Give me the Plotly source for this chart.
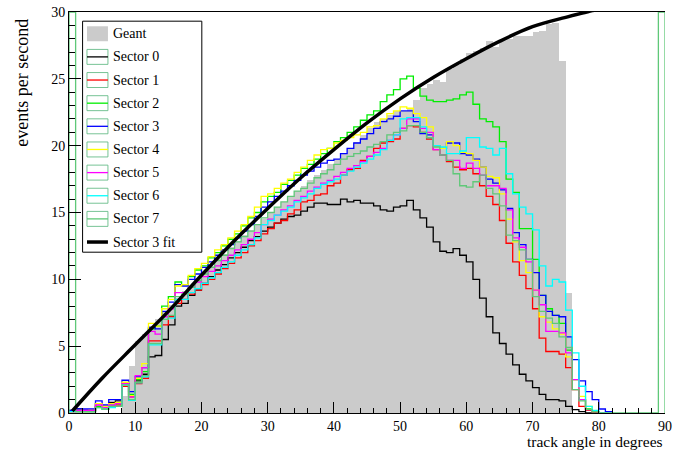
import plotly.graph_objects as go

# ---------------- data ----------------
bins = list(range(0, 82))          # 1-degree bins, low edges 0..81
bins_full = list(range(0, 90))     # sector 7 spans the full axis

geant = [0, 0, 0, 0, 0, 0, 0, 0, 1.25, 3.5,
         5.4, 5.9, 6.5, 7.0, 7.6, 8.1, 8.6, 9.1, 9.6, 10.1,
         10.6, 11.0, 11.5, 11.9, 12.4, 12.9, 13.3, 13.7, 14.1, 14.5,
         15.0, 15.4, 15.8, 16.2, 16.6, 17.0, 17.4, 17.8, 18.2, 18.6,
         19.0, 19.4, 19.8, 20.3, 20.8, 21.3, 21.8, 22.0, 22.3, 22.6,
         22.6, 22.8, 23.4, 24.3, 24.6, 24.9, 24.8, 25.7, 26.0, 26.5,
         26.9, 27.1, 27.3, 27.8, 27.4, 27.9, 28.0, 28.2, 28.2, 28.2,
         28.5, 28.6, 29.1, 29.2, 26.3, 9.0, 0, 0, 0, 0,
         0, 0]

sector0 = [0.2, 0.3, 0.2, 0.2, 0.7, 0.5, 0.8, 0.9, 2.2, 1.3,
           2.4, 2.9, 4.2, 4.3, 5.5, 6.6, 8.0, 8.2, 8.8, 9.2,
           9.7, 10.2, 10.7, 11.1, 11.6, 12.0, 12.4, 12.9, 13.2, 13.6,
           13.9, 14.2, 14.5, 14.7, 14.8, 15.1, 15.4, 15.7, 15.7, 15.6,
           15.6, 16.0, 15.8, 15.9, 15.7, 15.7, 15.5, 15.2, 15.1, 15.4,
           15.5, 15.9, 15.2, 14.6, 13.9, 12.8, 12.1, 12.0, 12.3, 11.8,
           11.3, 10.0, 8.6, 7.2, 6.0, 5.2, 4.4, 3.6, 2.9, 2.4,
           1.9, 1.4, 1.0, 1.0, 0.9, 0.5, 0.25, 0.1, 0, 0,
           0, 0]

sector1 = [0.1, 0.1, 0.1, 0.1, 0.5, 0.3, 0.5, 0.6, 2.0, 1.2,
           2.2, 2.6, 5.4, 5.4, 6.6, 7.2, 8.2, 8.5, 8.9, 9.2,
           9.6, 10.0, 10.4, 10.8, 11.2, 11.6, 12.0, 12.5, 12.9, 13.4,
           13.8, 14.2, 14.4, 14.9, 15.2, 15.8, 15.9, 16.3, 16.4, 17.0,
           17.2, 17.8, 18.2, 18.3, 18.9, 19.2, 19.8, 20.2, 20.3, 20.5,
           21.3, 21.5, 21.4, 21.0, 20.5, 19.7, 19.3, 18.8, 18.4, 18.2,
           18.3, 17.9, 17.0, 16.2, 15.6, 14.4, 12.7, 11.3, 10.3, 9.3,
           7.8, 5.6, 4.6, 4.6, 4.4, 3.4, 1.75, 0.5, 0.2, 0.1,
           0, 0]

sector2 = [0.1, 0.1, 0.1, 0.1, 0.5, 0.4, 0.6, 0.7, 2.2, 1.4,
           2.5, 3.1, 6.3, 6.5, 8.0, 8.7, 9.8, 9.6, 10.2, 10.7,
           11.0, 11.6, 12.0, 12.5, 13.0, 13.4, 14.0, 14.6, 15.0, 15.8,
           16.2, 16.5, 17.1, 17.4, 17.8, 18.3, 18.6, 19.0, 19.4, 19.8,
           20.3, 20.6, 21.0, 21.4, 21.9, 22.3, 22.6, 23.3, 23.8, 24.2,
           25.0, 25.2, 24.3, 23.7, 23.4, 23.3, 23.3, 23.4, 23.5, 23.8,
           24.0, 23.1, 22.0, 21.8, 21.4, 20.3, 17.5, 16.5, 13.8, 13.8,
           11.5, 8.8, 7.8, 7.3, 6.7, 4.7, 2.5, 1.0, 0.3, 0.1,
           0, 0]

sector3 = [0.2, 0.3, 0.3, 0.3, 0.9, 0.6, 1.0, 1.0, 2.45, 1.6,
           2.7, 3.4, 6.4, 6.3, 7.6, 8.3, 9.6, 9.5, 10.0, 10.4,
           10.9, 11.3, 11.8, 12.2, 12.6, 13.1, 13.6, 14.1, 14.7, 15.4,
           15.8, 16.2, 16.6, 17.0, 17.4, 17.8, 18.1, 18.4, 18.7, 18.9,
           19.0, 19.4, 19.8, 20.2, 20.5, 20.9, 21.3, 21.8, 22.0, 22.2,
           22.6, 22.6, 21.8, 20.9, 20.8, 20.0, 19.8, 20.2, 20.2, 19.4,
           19.3, 19.0, 18.4, 17.5, 17.2, 16.7, 15.3, 13.5, 12.6, 11.5,
           10.5, 8.8, 7.6, 7.3, 7.2, 5.7, 4.0, 2.4, 1.6, 1.0,
           0.3, 0.1]

sector4 = [0.1, 0.2, 0.1, 0.2, 0.7, 0.5, 0.7, 0.8, 2.3, 1.3,
           2.6, 3.7, 6.7, 6.5, 7.8, 8.5, 9.5, 9.6, 10.3, 10.8,
           11.2, 11.7, 12.2, 12.6, 13.1, 13.6, 14.1, 14.7, 15.4, 16.2,
           16.4, 16.8, 17.2, 17.5, 18.0, 18.4, 18.9, 19.3, 19.7, 19.8,
           20.2, 20.4, 20.6, 20.8, 21.0, 21.4, 21.5, 22.0, 22.4, 22.6,
           22.9, 22.8, 22.4, 22.1, 21.4, 20.0, 19.8, 20.3, 20.0, 19.5,
           19.4, 18.9, 18.4, 17.7, 17.6, 16.4, 14.5, 12.8, 11.4, 10.5,
           9.2, 7.2, 6.8, 6.3, 5.9, 4.2, 2.5, 1.25, 0.5, 0.1,
           0, 0]

sector5 = [0.1, 0.2, 0.2, 0.2, 0.6, 0.4, 0.6, 0.7, 2.2, 1.2,
           2.8, 3.4, 6.1, 5.9, 7.2, 7.8, 9.0, 9.0, 9.4, 9.8,
           10.2, 10.6, 11.0, 11.4, 11.8, 12.2, 12.6, 13.0, 13.5, 14.1,
           14.5, 14.8, 15.2, 15.5, 15.9, 16.2, 16.6, 16.9, 17.2, 17.4,
           17.7, 18.0, 18.3, 18.5, 18.8, 19.2, 19.5, 19.8, 20.4, 20.8,
           21.3, 22.0, 22.0, 21.3, 21.0, 19.7, 19.3, 18.9, 18.9, 18.3,
           18.7, 18.3, 17.8, 17.0, 17.0, 16.8, 15.2, 13.1, 12.4, 11.3,
           9.2, 8.1, 6.1, 6.1, 6.0, 4.5, 2.5, 1.0, 0.25, 0.1,
           0, 0]

sector6 = [0.1, 0.1, 0.1, 0.1, 0.4, 0.3, 0.4, 0.5, 2.1, 0.95,
           2.25, 2.7, 5.1, 5.1, 7.0, 7.1, 8.5, 8.5, 9.0, 9.3,
           9.7, 10.1, 10.5, 10.9, 11.3, 11.8, 12.2, 12.6, 13.1, 14.1,
           14.4, 14.8, 15.1, 15.4, 15.8, 16.1, 16.4, 16.8, 17.1, 17.3,
           17.5, 17.8, 18.1, 18.4, 18.7, 19.0, 19.3, 19.7, 20.4, 20.8,
           22.0, 22.1, 22.1, 21.4, 20.6, 20.0, 19.9, 19.4, 19.4, 19.6,
           20.6, 20.6, 19.9, 19.8, 19.3, 19.8, 17.9, 16.4, 15.4, 14.9,
           13.7, 11.0, 9.5, 10.0, 9.8, 7.7, 4.5, 2.0, 0.5, 0.2,
           0, 0]

sector7 = [30.0, 0.1, 0.1, 0.1, 0.4, 0.3, 0.5, 0.5, 2.1, 1.0,
           2.3, 2.8, 5.2, 5.2, 7.0, 7.3, 8.7, 8.9, 9.4, 9.9,
           10.4, 10.9, 11.4, 11.8, 12.3, 12.8, 13.2, 13.6, 14.1, 14.6,
           15.0, 15.4, 15.8, 16.2, 16.6, 16.8, 17.2, 17.6, 17.9, 18.2,
           18.6, 19.0, 19.2, 19.4, 19.6, 19.9, 20.1, 20.3, 20.8, 21.0,
           21.1, 21.5, 21.5, 21.0, 20.6, 19.9, 19.3, 18.9, 17.9, 17.0,
           16.9, 17.3, 17.8, 16.8, 16.4, 15.5, 13.3, 12.9, 12.2, 11.5,
           8.7, 7.6, 7.1, 6.7, 5.7, 4.9, 1.75, 0.9, 0.25, 0.1,
           0, 0, 0, 0, 0, 0, 0, 0, 0, 30.0]

fit_x = [0.5, 5, 10, 15, 20, 25, 30, 35, 40, 45, 50, 55, 60, 65, 70, 75, 79, 82]
fit_y = [0.15, 2.6, 5.1, 7.6, 10.3, 12.9, 15.3, 17.6, 19.7, 21.7, 23.5, 25.1,
         26.5, 27.8, 28.9, 29.6, 30.1, 30.5]

sector_names = ["Sector 0", "Sector 1", "Sector 2", "Sector 3",
                "Sector 4", "Sector 5", "Sector 6", "Sector 7"]
sector_colors = ["#000000", "#ff0000", "#00ee00", "#0000ff",
                 "#ffff00", "#ff00ff", "#00ffff", "rgb(95,200,120)"]

# ---------------- figure ----------------
W, H = 676, 450
L, R, T, B = 68.7, 665.5, 11.5, 413.5   # plot area in pixels
SERIF = "Liberation Serif"

fig = go.Figure()

fig.add_trace(go.Bar(x=bins, y=geant, width=1, offset=0,
                     marker=dict(color="#cbcbcb", line=dict(width=0)),
                     name="Geant", showlegend=False))


def step(edges_lo, vals):
    xs = [edges_lo[0]] + list(edges_lo) + [edges_lo[-1] + 1, edges_lo[-1] + 1]
    ys = [0] + list(vals) + [vals[-1], 0]
    return xs, ys


series = [sector0, sector1, sector2, sector3, sector4, sector5, sector6, sector7]
for name, col, vals in zip(sector_names, sector_colors, series):
    edges = bins_full if len(vals) == len(bins_full) else bins
    xs, ys = step(edges, vals)
    fig.add_trace(go.Scatter(x=xs, y=ys, mode="lines", name=name,
                             line=dict(color=col, width=1.3, shape="hv"),
                             showlegend=False))

fig.add_trace(go.Scatter(x=fit_x, y=fit_y, mode="lines", name="Sector 3 fit",
                         line=dict(color="black", width=3.5, shape="spline"),
                         showlegend=False))

# ---------------- manual ROOT-style legend ----------------
pw, ph = R - L, B - T


def px(xp):
    return (xp - L) / pw


def py(yp):
    return (B - yp) / ph


shapes = []
annotations = []
shapes.append(dict(type="rect", xref="paper", yref="paper",
                   x0=px(82.3), x1=px(201.7), y0=py(252.3), y1=py(20.7),
                   line=dict(color="black", width=1), fillcolor="white", layer="above"))

entry_names = ["Geant"] + sector_names + ["Sector 3 fit"]
for i, nm in enumerate(entry_names):
    yc = 33.3 + 23.2 * i
    bx0, bx1 = 86.7, 107.7
    if nm == "Geant":
        shapes.append(dict(type="rect", xref="paper", yref="paper",
                           x0=px(bx0), x1=px(bx1), y0=py(yc + 7.5), y1=py(yc - 7.5),
                           line=dict(width=0), fillcolor="#cbcbcb", layer="above"))
    elif nm == "Sector 3 fit":
        shapes.append(dict(type="line", xref="paper", yref="paper",
                           x0=px(bx0), x1=px(bx1), y0=py(yc), y1=py(yc),
                           line=dict(color="black", width=3.5), layer="above"))
    else:
        col = sector_colors[sector_names.index(nm)]
        shapes.append(dict(type="rect", xref="paper", yref="paper",
                           x0=px(bx0), x1=px(bx1), y0=py(yc + 7.5), y1=py(yc - 7.5),
                           line=dict(color="rgba(95,185,130,0.85)", width=1),
                           fillcolor="white", layer="above"))
        shapes.append(dict(type="line", xref="paper", yref="paper",
                           x0=px(bx0), x1=px(bx1), y0=py(yc), y1=py(yc),
                           line=dict(color=col, width=1.3), layer="above"))
    annotations.append(dict(xref="paper", yref="paper", x=px(110.7), y=py(yc),
                            text=nm, showarrow=False, xanchor="left", yanchor="middle",
                            font=dict(family=SERIF, size=14, color="black")))

# axis titles (ROOT places them at the axis ends)
annotations.append(dict(xref="paper", yref="paper", x=px(22), y=py(82),
                        text="events per second", textangle=-90, showarrow=False,
                        xanchor="center", yanchor="middle",
                        font=dict(family=SERIF, size=18, color="black")))
annotations.append(dict(xref="paper", yref="paper", x=px(665), y=py(442.5),
                        text="track angle in degrees", showarrow=False,
                        xanchor="right", yanchor="middle",
                        font=dict(family=SERIF, size=15.5, color="black")))

fig.update_layout(
    template="none",
    width=W, height=H,
    margin=dict(l=L, r=W - R, t=T, b=H - B, pad=0, autoexpand=False),
    plot_bgcolor="white", paper_bgcolor="white",
    bargap=0, showlegend=False,
    shapes=shapes, annotations=annotations,
    font=dict(family=SERIF, size=14, color="black"),
    xaxis=dict(range=[0, 90], tick0=0, dtick=10, ticks="inside", ticklen=11,
               tickwidth=1, tickcolor="black", showline=True, linecolor="black",
               linewidth=1, mirror=True, showgrid=False, zeroline=False,
               automargin=False,
               tickfont=dict(family=SERIF, size=14, color="black"),
               minor=dict(dtick=2, ticks="inside", ticklen=5, tickcolor="black",
                          showgrid=False)),
    yaxis=dict(range=[0, 30], tick0=0, dtick=5, ticks="inside", ticklen=12,
               tickwidth=1, tickcolor="black", showline=True, linecolor="black",
               linewidth=1, showgrid=False, zeroline=False,
               automargin=False,
               tickfont=dict(family=SERIF, size=14, color="black"),
               minor=dict(dtick=1, ticks="inside", ticklen=6, tickcolor="black",
                          showgrid=False)),
)

# remove the browser's default 8px page margin so the figure sits at (0, 0)
fig.write_html("out.html",
               config={"displayModeBar": False},
               post_script="document.body.style.margin='0px';"
                           "document.body.style.overflow='hidden';")
